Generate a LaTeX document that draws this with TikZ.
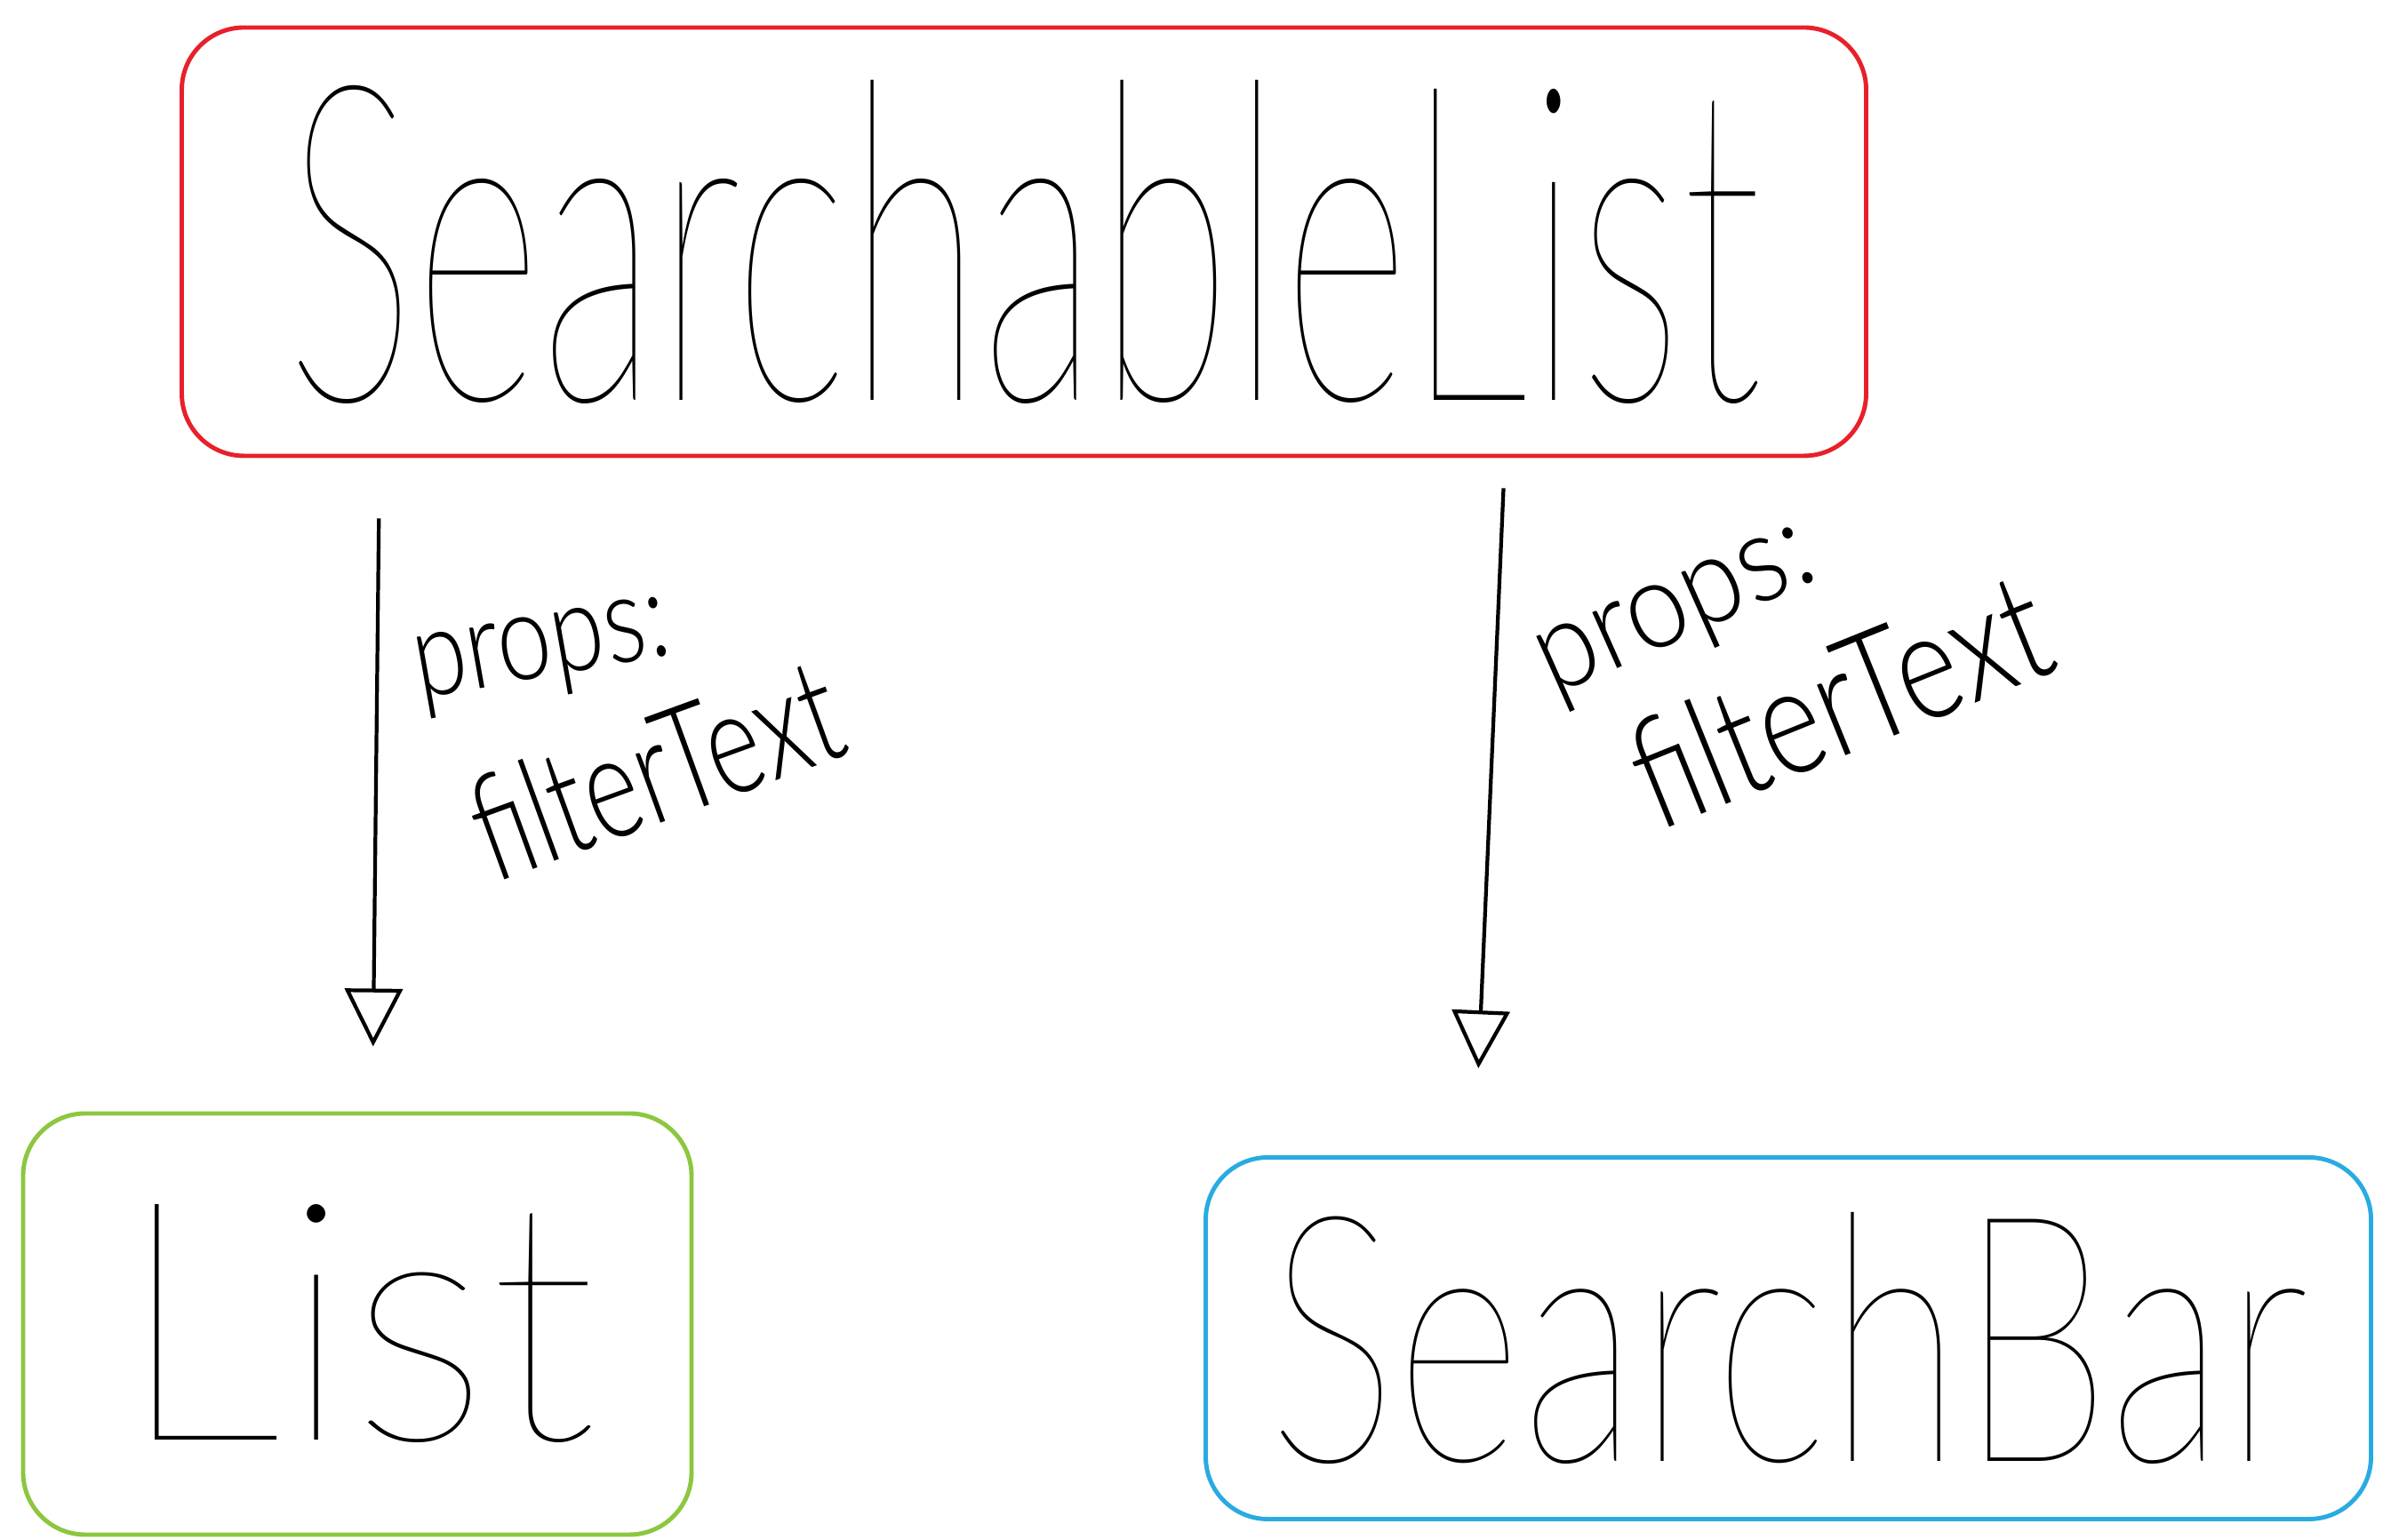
\documentclass[tikz,border=0pt]{standalone}
\usepackage{fontspec}
\usepackage{graphicx}
\newfontfamily\handfont{Lato Hairline}
\newfontfamily\notefont{Lato Light}
\usetikzlibrary{arrows.meta,positioning}

\definecolor{boxred}{RGB}{232,32,42}
\definecolor{boxgreen}{RGB}{141,198,63}
\definecolor{boxblue}{RGB}{41,171,226}

% text squeezed to the size of the hand lettering
\newcommand{\handtext}[3]{\resizebox{#1}{#2}{\handfont #3}}
\newcommand{\notetext}[3]{\resizebox{#1}{#2}{\notefont #3}}

\begin{document}
\begin{tikzpicture}[>={Triangle[open,length=6.5mm,width=6.5mm]}, line width=1.4pt,
    box/.style={rectangle, draw, rounded corners=7mm, inner sep=0pt},
    line/.style={draw, ->, line width=1.2pt},
    lbl/.style={inner sep=0pt}]
    \useasboundingbox (0,0) rectangle (26.81,17.33);

    \node [box, draw=boxred, minimum width=18.95cm, minimum height=4.82cm] (parent) at (11.52,14.61)
        {\handtext{16.6cm}{3.6cm}{SearchableList}};

    \node [box, draw=boxgreen, minimum width=7.52cm, minimum height=4.74cm] (list) at (4.02,2.43)
        {\handtext{5.4cm}{2.65cm}{List}};

    \node [box, draw=boxblue, minimum width=13.11cm, minimum height=4.07cm] (bar) at (20.12,2.27)
        {\handtext{11.7cm}{2.8cm}{SearchBar}};

    \draw [line, shorten <=0.68cm, shorten >=0.73cm] ([xshift=-7.25cm]parent.south) -- ([xshift=0.17cm]list.north);
    \draw [line, shorten <=0.34cm, shorten >=0.98cm] ([xshift=5.41cm]parent.south) -- ([xshift=-3.53cm]bar.north);

    \node [lbl, rotate=10] (propsL) at (6.11,9.94) {\notetext{2.9cm}{0.7cm}{props:}};
    \node [lbl, rotate=20] (textL) at (7.37,8.68) {\notetext{4.3cm}{1.2cm}{filterText}};
    \node [lbl, rotate=24] (propsR) at (18.89,10.37) {\notetext{3.3cm}{0.7cm}{props:}};
    \node [lbl, rotate=22] (textR) at (20.69,9.46) {\notetext{4.9cm}{1.25cm}{filterText}};
\end{tikzpicture}
\end{document}
